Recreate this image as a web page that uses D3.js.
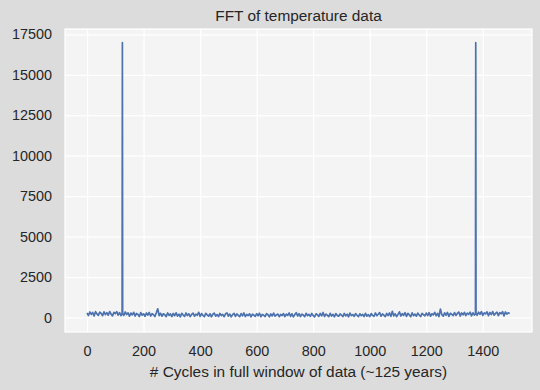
<!DOCTYPE html>
<html>
<head>
<meta charset="utf-8">
<script src="https://cdn.jsdelivr.net/npm/d3@7"></script>
<style>
  html, body { margin: 0; padding: 0; background: #dcdcdc; }
  #chart { width: 540px; height: 390px; }
  text { font-family: "Liberation Sans", Arial, sans-serif; fill: #262626; }
</style>
</head>
<body>
<div id="chart"></div>
<script>
//Datos: espectro (magnitud FFT), un valor cada 5 ciclos
const cycleStep = 5;
const amplitude = [
  280, 120, 340, 190, 310, 90, 360, 220, 130, 330, 260, 110, 350, 180, 300, 140, 370, 210, 100, 320,
  240, 360, 150, 300, 110, null, 130, 340, 180, 290, 80, 270, 160, 320, 90, 250, 190, 60, 300, 140,
  230, 70, 280, 150, 310, 90, 240, 170, 60, 290, 540, 120, 260, 80, 230, 170, 50, 280, 130, 220,
  60, 250, 110, 290, 90, 200, 40, 260, 150, 70, 280, 120, 230, 60, 190, 270, 80, 210, 140, 320,
  70, 240, 130, 50, 260, 160, 80, 230, 40, 200, 270, 90, 180, 60, 250, 120, 190, 50, 230, 280,
  90, 210, 40, 180, 260, 70, 220, 130, 50, 240, 100, 280, 60, 190, 120, 230, 40, 200, 150, 70,
  230, 110, 260, 50, 190, 140, 60, 240, 170, 40, 220, 100, 270, 80, 160, 210, 50, 190, 120, 240,
  60, 200, 130, 280, 70, 230, 40, 180, 300, 90, 240, 60, 210, 150, 50, 260, 110, 190, 70, 250,
  120, 40, 230, 160, 70, 250, 100, 310, 60, 210, 140, 50, 260, 90, 190, 40, 240, 130, 80, 220,
  150, 60, 250, 100, 200, 40, 270, 120, 180, 70, 240, 140, 50, 230, 110, 190, 60, 260, 90, 170,
  60, 240, 130, 70, 280, 110, 200, 300, 80, 220, 150, 50, 250, 120, 280, 70, 380, 100, 230, 60,
  190, 350, 90, 240, 130, 300, 70, 260, 160, 50, 290, 120, 210, 80, 270, 150, 60, 250, 180, 100,
  270, 120, 300, 80, 230, 160, 320, 110, 250, 60, 520, 180, 90, 290, 140, 310, 70, 260, 200, 110,
  300, 130, 250, 340, 90, 280, 170, 320, 120, 270, 190, 330, 100, 290, 150, null, 140, 330, 200, 360,
  130, 290, 220, 350, 110, 310, 180, 370, 140, 260, 330, 120, 300, 230, 360, 100, 340, 210, 290, 250
];

//Picos (ciclo anual y su simétrico)
const peakCycles = [124, 125, 126, 1374, 1375, 1376];
const peakValues = [260, 16980, 230, 220, 16980, 250];

const xTicks = [0, 200, 400, 600, 800, 1000, 1200, 1400];
const yTicks = [0, 2500, 5000, 7500, 10000, 12500, 15000, 17500];

const COLOR_LINE = '#4c72b0',
COLOR_PLOT_BG = '#f4f4f4',
COLOR_GRID = '#ffffff';

let points = amplitude
    .map(function(v, i) { return { cycle: i * cycleStep, value: v }; })
    .filter(function(d) { return d.value !== null; })
    .concat(peakCycles.map(function(c, i) { return { cycle: c, value: peakValues[i] }; }))
    .sort(function(a, b) { return a.cycle - b.cycle; });

let margin = {top: 29, right: 8, bottom: 58, left: 65},
    width = 540 - margin.left - margin.right,
    height = 390 - margin.top - margin.bottom;

let svg = d3.select("#chart")
    .append("svg")
      .attr("width", 540)
      .attr("height", 390);

let g = svg.append("g")
    .attr("transform", "translate(" + margin.left + "," + margin.top + ")");

let x = d3.scaleLinear()
    .domain([-78, 1574])
    .range([0, width]);

let y = d3.scaleLinear()
    .domain([-896, 17827])
    .range([height, 0]);

g.append("rect")
    .attr("width", width)
    .attr("height", height)
    .attr("fill", COLOR_PLOT_BG)
    .attr("stroke", COLOR_GRID)
    .attr("stroke-width", 1.25);

//Ejes con rejilla
let xAxis = function(sel) {
    sel.call(d3.axisBottom(x).tickValues(xTicks).tickSize(-height).tickPadding(14).tickFormat(d3.format("d")));
    sel.select(".domain").remove();
    sel.selectAll(".tick line").attr("stroke", COLOR_GRID).attr("stroke-width", 1.25);
    sel.selectAll(".tick text").style("font-size", "14.4px").attr("fill", "#262626");
};

let yAxis = function(sel) {
    sel.call(d3.axisLeft(y).tickValues(yTicks).tickSize(-width).tickPadding(13).tickFormat(d3.format("d")));
    sel.select(".domain").remove();
    sel.selectAll(".tick line").attr("stroke", COLOR_GRID).attr("stroke-width", 1.25);
    sel.selectAll(".tick text").style("font-size", "14.4px").attr("fill", "#262626");
};

g.append("g")
    .attr("transform", "translate(0," + height + ")")
    .call(xAxis);

g.append("g")
    .call(yAxis);

g.append("path")
    .datum(points)
    .attr("fill", "none")
    .attr("stroke", COLOR_LINE)
    .attr("stroke-width", 1.7)
    .attr("stroke-linejoin", "round")
    .attr("d", d3.line()
        .x(function(d) { return x(d.cycle); })
        .y(function(d) { return y(d.value); }));

//Títulos
svg.append("text")
    .attr("x", margin.left + width / 2)
    .attr("y", 21)
    .attr("text-anchor", "middle")
    .style("font-size", "15.4px")
    .text("FFT of temperature data");

svg.append("text")
    .attr("x", margin.left + width / 2)
    .attr("y", 377)
    .attr("text-anchor", "middle")
    .style("font-size", "15.4px")
    .text("# Cycles in full window of data (~125 years)");
</script>
</body>
</html>
